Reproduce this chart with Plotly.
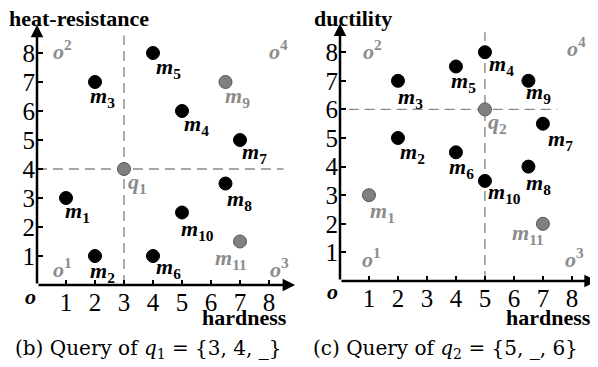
import plotly.graph_objects as go

# page body has an 8px margin: the figure is drawn 8px right/down of the window corner
OFF = 8
W, H = 598 - OFF, 367 - OFF

# ---------------- data ----------------
left_names = ["m1", "m2", "m3", "m4", "m5", "m6", "m7", "m8", "m9", "m10", "m11", "q1"]
left_x = [1, 2, 2, 5, 4, 4, 7, 6.5, 6.5, 5, 7, 3]
left_y = [3, 1, 7, 6, 8, 1, 5, 3.5, 7, 2.5, 1.5, 4]
left_gray = [False, False, False, False, False, False, False, False, True, False, True, True]

right_names = ["m1", "m2", "m3", "m4", "m5", "m6", "m7", "m8", "m9", "m10", "m11", "q2"]
right_x = [1, 2, 2, 5, 4, 4, 7, 6.5, 6.5, 5, 7, 5]
right_y = [3, 5, 7, 8, 7.5, 4.5, 5.5, 4, 7, 3.5, 2, 6]
right_gray = [True, False, False, False, False, False, False, False, False, False, True, True]

tick_vals = [1, 2, 3, 4, 5, 6, 7, 8]
left_query = (3, 4)
right_query = (5, 6)

# label offsets in pixels (dx right, dy down)
left_off = [(11, 14), (7, 16), (7, 15), (14, 14), (15, 15), (15, 12), (14, 13),
            (14, 17), (12, 15), (15, 18), (-9, 18), (13, 14)]
right_off = [(14, 17), (15, 15), (13, 17), (17, 13), (8, 16), (6, 16), (18, 16),
             (10, 17), (10, 12), (20, 12), (-15, 10), (13, 14)]

# ---------------- panel geometry (reference pixels) ----------------
panels = [
    dict(x0=37, y0=285, sx=29, sy=29, xr=[-1.0, 9.2], yr=[-1.3, 9.4]),
    dict(x0=340, y0=281, sx=29, sy=28.6, xr=[-1.1, 8.9], yr=[-1.3, 9.4]),
]

FONT = "Liberation Serif"
CAPFONT = "DejaVu Serif"
BLACK = "#000000"
GRAY_TXT = "#8c8c8c"
GRAY_MK = "#808080"


def fx(px):
    return (px - OFF) / W


def fy(py):
    return 1 - (py - OFF) / H


fig = go.Figure()
layout = dict(width=W, height=H, margin=dict(l=0, r=0, t=0, b=0, pad=0, autoexpand=False),
              paper_bgcolor="white", plot_bgcolor="white", showlegend=False,
              font=dict(family=FONT, color="black"))
annotations = []
shapes = []


def sub(name):
    return "<b><i>%s</i><sub>%s</sub></b>" % (name[0], name[1:])


datasets = [
    (left_names, left_x, left_y, left_gray, left_off, left_query, (8.6, 8.5, 0.0)),
    (right_names, right_x, right_y, right_gray, right_off, right_query, (8.7, 7.5, 0.3)),
]
arrow_tips = [(8.9, 8.97), (8.86, 9.0)]
corner_px = [((62, 268), (371, 258)), ((62, 50), (372, 50)),
             ((279, 268), (574, 258)), ((278, 50), (576, 47))]

for i, (p, ds) in enumerate(zip(panels, datasets)):
    names, xs, ys, gray, offs, q, dl = ds
    k = "" if i == 0 else str(i + 1)
    xa, ya = "x" + k, "y" + k
    xd = [fx(p["x0"] + p["sx"] * p["xr"][0]), fx(p["x0"] + p["sx"] * p["xr"][1])]
    yd = [fy(p["y0"] - p["sy"] * p["yr"][0]), fy(p["y0"] - p["sy"] * p["yr"][1])]
    xd = [max(0, xd[0]), min(1, xd[1])]
    yd = [max(0, yd[0]), min(1, yd[1])]
    layout["xaxis" + k] = dict(domain=xd, range=p["xr"], anchor="free", position=fy(p["y0"]),
                               automargin=False,
                               showgrid=False, zeroline=False, showline=False,
                               tickvals=tick_vals, ticks="inside", ticklen=5, tickwidth=2,
                               tickcolor="black", tickfont=dict(family=FONT, size=25, color="black"),
                               ticklabelstandoff=0)
    layout["yaxis" + k] = dict(domain=yd, range=p["yr"], anchor="free", position=fx(p["x0"]),
                               automargin=False,
                               showgrid=False, zeroline=False, showline=False,
                               tickvals=tick_vals, ticks="inside", ticklen=5, tickwidth=2,
                               tickcolor="black", tickfont=dict(family=FONT, size=25, color="black"),
                               ticklabelstandoff=2)

    # dashed query lines
    vtop, hright, hleft = dl
    shapes.append(dict(type="line", xref=xa, yref=ya, x0=q[0], x1=q[0], y0=0, y1=vtop,
                       line=dict(color="#8a8a8a", width=1.4, dash="10px,6px"), layer="below"))
    shapes.append(dict(type="line", xref=xa, yref=ya, x0=hleft, x1=hright, y0=q[1], y1=q[1],
                       line=dict(color="#8a8a8a", width=1.4, dash="10px,6px"), layer="below"))

    # axes arrows
    tx, ty = arrow_tips[i]
    for (hx, hy) in [(tx, 0), (0, ty)]:
        annotations.append(dict(xref=xa, yref=ya, axref=xa, ayref=ya, x=hx, y=hy, ax=0, ay=0,
                                showarrow=True, arrowhead=2, arrowsize=1.0, arrowwidth=2.5,
                                arrowcolor="black", text=""))

    # points
    cols = [GRAY_MK if g else BLACK for g in gray]
    lcols = ["#555555" if g else BLACK for g in gray]
    fig.add_trace(go.Scatter(x=xs, y=ys, mode="markers", xaxis=xa, yaxis=ya,
                             marker=dict(size=13, color=cols, line=dict(color=lcols, width=1)),
                             cliponaxis=False))

    for n, x, y, g, (dx, dy) in zip(names, xs, ys, gray, offs):
        annotations.append(dict(xref=xa, yref=ya, x=x, y=y, xshift=dx, yshift=-dy,
                                text=sub(n), showarrow=False, xanchor="center", yanchor="middle",
                                font=dict(family=FONT, size=22, color=GRAY_TXT if g else BLACK)))

    # origin label
    annotations.append(dict(xref=xa, yref=ya, x=0, y=0, xshift=-7, yshift=-11,
                            text="<b><i>o</i></b>", showarrow=False,
                            font=dict(family=FONT, size=22, color="black")))

    # corner labels
    for j, c in enumerate(corner_px):
        px, py = c[i]
        annotations.append(dict(xref="paper", yref="paper", x=fx(px), y=fy(py),
                                text="<b><i>o</i><sup>%d</sup></b>" % (j + 1), showarrow=False,
                                xanchor="center", yanchor="middle",
                                font=dict(family=FONT, size=22, color=GRAY_TXT)))

# titles
titles = [("heat-resistance", 7, 19, "left"), ("ductility", 312, 19, "left"),
          ("hardness", 244, 317, "center"), ("hardness", 548, 317, "center")]
for t, px, py, anc in titles:
    annotations.append(dict(xref="paper", yref="paper", x=fx(px), y=fy(py), text="<b>%s</b>" % t,
                            showarrow=False, xanchor=anc, yanchor="middle",
                            font=dict(family=FONT, size=22, color="black")))

captions = [("(b) Query of <i>q</i><sub>1</sub> = {3, 4, _}", 148),
            ("(c) Query of <i>q</i><sub>2</sub> = {5, _, 6}", 445)]
for t, px in captions:
    annotations.append(dict(xref="paper", yref="paper", x=fx(px), y=fy(349), text=t,
                            showarrow=False, xanchor="center", yanchor="middle",
                            font=dict(family=CAPFONT, size=20, color="black")))

layout["annotations"] = annotations
layout["shapes"] = shapes
fig.update_layout(**layout)
fig.write_html("out.html")
